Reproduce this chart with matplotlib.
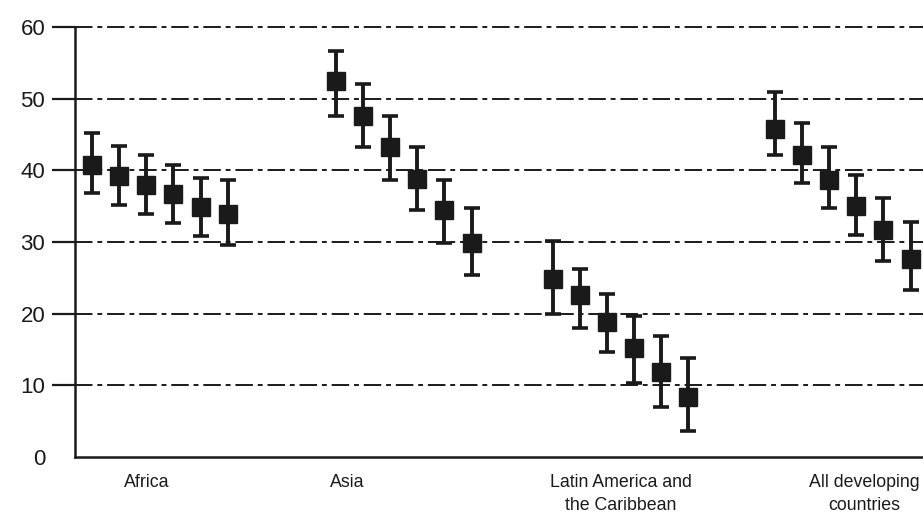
import numpy as np
import matplotlib.pyplot as plt

plt.rcParams['font.family'] = ['Liberation Sans', 'DejaVu Sans']

# regions and their point estimates (six periods each), with lower/upper bounds
regions = ['Africa', 'Asia', 'Latin America and\nthe Caribbean', 'All developing\ncountries']
group_start = [0, 9, 17, 25.2]

est = [
    [40.7, 39.2, 38.0, 36.7, 34.9, 33.9],
    [52.4, 47.5, 43.3, 38.8, 34.4, 29.8],
    [24.8, 22.6, 18.8, 15.2, 11.9, 8.4],
    [45.8, 42.1, 38.6, 35.0, 31.6, 27.6],
]
low = [
    [36.8, 35.1, 33.9, 32.6, 30.9, 29.6],
    [47.6, 43.2, 38.7, 34.4, 29.8, 25.4],
    [19.9, 18.0, 14.7, 10.3, 7.0, 3.6],
    [42.1, 38.2, 34.8, 31.0, 27.3, 23.3],
]
high = [
    [45.2, 43.4, 42.1, 40.8, 38.9, 38.6],
    [56.6, 52.1, 47.5, 43.2, 38.7, 34.8],
    [30.2, 26.2, 22.8, 19.7, 16.9, 13.8],
    [50.9, 46.6, 43.3, 39.3, 36.1, 32.8],
]
label_pos = [2.0, 9.4, 19.5, 28.5]
yticks = [0, 10, 20, 30, 40, 50, 60]

fig = plt.figure(figsize=(9.23, 5.17), dpi=100)
ax = fig.add_axes([0.0813, 0.116, 0.9187, 0.832])

for g in range(len(regions)):
    x = group_start[g] + np.arange(len(est[g]))
    y = np.array(est[g])
    yerr = [y - np.array(low[g]), np.array(high[g]) - y]
    ax.errorbar(x, y, yerr=yerr, fmt='s', color='#1a1a1a', ms=12.5,
                elinewidth=2.8, capsize=6, capthick=2.6, zorder=3)

# dash-dot reference lines
for v in yticks[1:]:
    ax.axhline(v, color='#1a1a1a', lw=1.4, dashes=(9, 2.5, 2.5, 2.5),
               zorder=1, clip_on=False)

ax.set_xlim(-0.63, 30.66)
ax.set_ylim(0, 60)
ax.set_yticks(yticks)
ax.set_xticks([])
ax.tick_params(axis='y', length=16.5, width=1.6, pad=5, labelsize=16,
               color='#1a1a1a', labelcolor='#1a1a1a')
ax.yaxis.get_major_ticks()[0].tick1line.set_visible(False)

for s in ['top', 'right']:
    ax.spines[s].set_visible(False)
for s in ['left', 'bottom']:
    ax.spines[s].set_linewidth(1.8)
    ax.spines[s].set_color('#1a1a1a')

for name, xp in zip(regions, label_pos):
    ax.text(xp, -2.3, name, ha='center', va='top', fontsize=12.8,
            color='#1a1a1a', linespacing=1.5)

fig.savefig('out.png', dpi=100)
